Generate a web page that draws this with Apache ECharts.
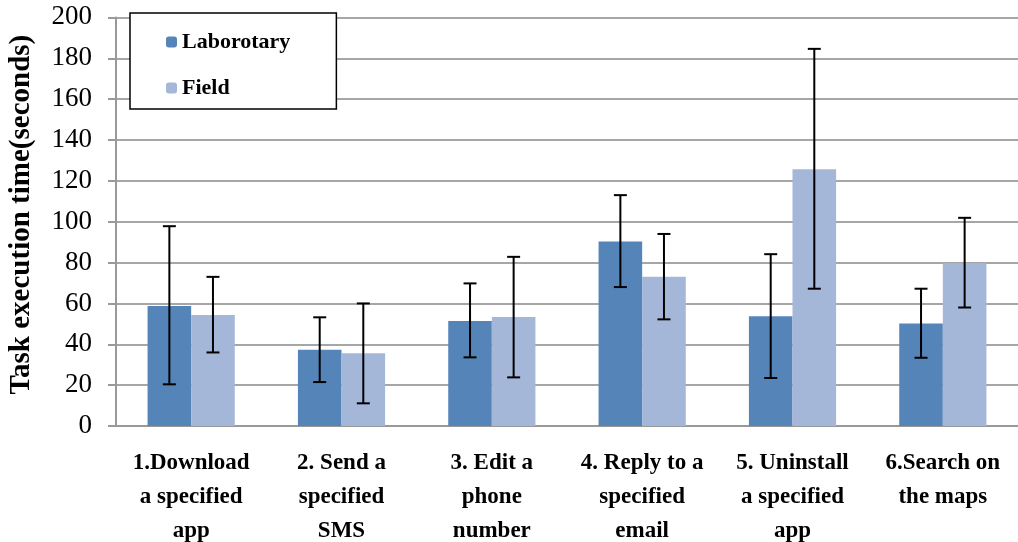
<!DOCTYPE html>
<html>
<head>
<meta charset="utf-8">
<script src="https://cdn.jsdelivr.net/npm/echarts@6/dist/echarts.min.js"></script>
<style>
html,body{margin:0;padding:0;background:#fff;}
#chart{width:1018px;height:542px;}
</style>
</head>
<body>
<div id="chart"></div>
<script>
var categories = ['1.Download\na specified\napp', '2. Send a\nspecified\nSMS', '3. Edit a\nphone\nnumber',
    '4. Reply to a\nspecified\nemail', '5. Uninstall\na specified\napp', '6.Search on\nthe maps'];
var labValues = [58.7, 37.3, 51.4, 90.3, 53.7, 50.2];
var labLow = [20.4, 21.5, 33.6, 68, 23.5, 33.4];
var labHigh = [97.8, 53.2, 69.8, 113, 84.1, 67.2];
var fieldValues = [54.3, 35.6, 53.3, 73, 125.7, 79.7];
var fieldLow = [36, 11.1, 23.8, 52.2, 67.2, 58];
var fieldHigh = [73, 60, 82.8, 94, 184.6, 101.9];

var chart = echarts.init(document.getElementById('chart'));
var serif = '"Liberation Serif", "Times New Roman", serif';
var catGap = 0.42;

function errData(low, high) {
    var out = [];
    for (var i = 0; i < low.length; i++) {
        out.push([i, low[i], high[i]]);
    }
    return out;
}

// draws whisker + caps, shifted to the bar's center
function errRender(side) {
    return function (params, api) {
        var i = api.value(0);
        var lo = api.coord([i, api.value(1)]);
        var hi = api.coord([i, api.value(2)]);
        var band = api.size([1, 0])[0];
        var barW = band * (1 - catGap) / 2;
        var x = lo[0] + side * barW / 2;
        var cap = 6.5;
        var style = {stroke: '#000', lineWidth: 2};
        return {
            type: 'group',
            children: [
                {type: 'line', shape: {x1: x, y1: lo[1], x2: x, y2: hi[1]}, style: style},
                {type: 'line', shape: {x1: x - cap, y1: lo[1], x2: x + cap, y2: lo[1]}, style: style},
                {type: 'line', shape: {x1: x - cap, y1: hi[1], x2: x + cap, y2: hi[1]}, style: style}
            ]
        };
    };
}

chart.setOption({
    animation: false,
    grid: {left: 116, right: 0, top: 17.4, bottom: 116, outerBoundsMode: 'none', containLabel: false},
    legend: {
        orient: 'vertical',
        left: 130,
        top: 13,
        data: ['Laborotary', 'Field'],
        itemWidth: 11,
        itemHeight: 11,
        itemGap: 24,
        padding: [18, 46, 10, 36],
        borderColor: '#000',
        borderWidth: 1.5,
        backgroundColor: '#fff',
        textStyle: {fontFamily: serif, fontWeight: 'bold', fontSize: 22, color: '#000'}
    },
    xAxis: {
        type: 'category',
        data: categories,
        axisLine: {lineStyle: {color: '#999', width: 2}},
        axisTick: {show: false},
        axisLabel: {
            interval: 0,
            margin: 20,
            fontFamily: serif,
            fontWeight: 'bold',
            fontSize: 23,
            lineHeight: 34,
            color: '#000'
        }
    },
    yAxis: {
        type: 'value',
        min: 0,
        max: 200,
        interval: 20,
        name: 'Task execution time(seconds)',
        nameLocation: 'middle',
        nameGap: 80,
        nameTextStyle: {fontFamily: serif, fontWeight: 700, fontSize: 29, color: '#000', padding: [0, 0, 0, 14]},
        axisLine: {show: true, lineStyle: {color: '#999', width: 2}},
        axisTick: {show: true, length: 8, lineStyle: {color: '#999', width: 2}},
        splitLine: {lineStyle: {color: '#a6a6a6', width: 2}},
        axisLabel: {fontFamily: serif, fontSize: 27, color: '#000', margin: 24}
    },
    series: [
        {
            name: 'Laborotary',
            type: 'bar',
            data: labValues,
            barGap: '0%',
            barCategoryGap: '42%',
            itemStyle: {color: '#5585b8'}
        },
        {
            name: 'Field',
            type: 'bar',
            data: fieldValues,
            itemStyle: {color: '#a4b7d9'}
        },
        {
            type: 'custom',
            renderItem: errRender(-1),
            data: errData(labLow, labHigh),
            encode: {x: 0, y: [1, 2]},
            z: 10
        },
        {
            type: 'custom',
            renderItem: errRender(1),
            data: errData(fieldLow, fieldHigh),
            encode: {x: 0, y: [1, 2]},
            z: 10
        }
    ]
});
</script>
</body>
</html>
